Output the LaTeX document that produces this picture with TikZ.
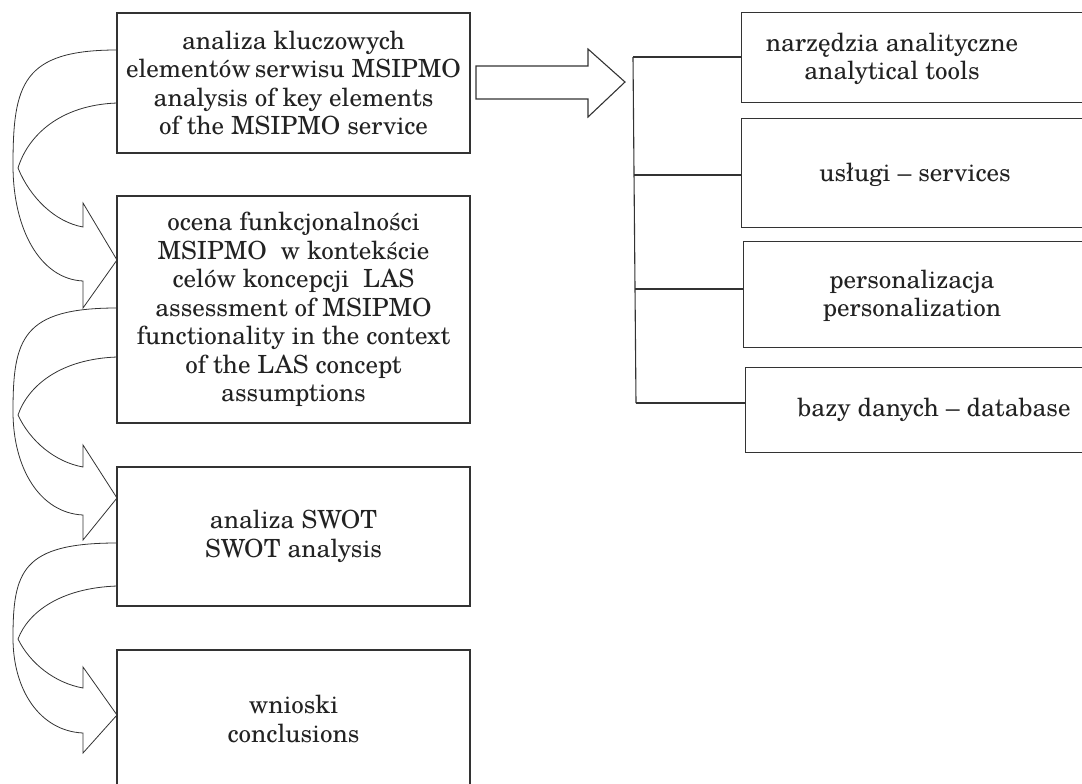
\documentclass[tikz,border=0pt]{standalone}
\usepackage{fontspec}
\setmainfont{TeX Gyre Schola}
\usetikzlibrary{calc}
\definecolor{ln}{HTML}{333333}
\definecolor{tx}{HTML}{222222}
\newcommand{\curvearr}[8]{%
 \draw[arr] (117,#1) .. controls (22,#1) and (13,{#1+0.3*((#1+#7)/2-#1)}) .. (13,{(#1+#7)/2})
   .. controls (13,{(#1+#7)/2+0.55*(#7-(#1+#7)/2)}) and (40,{#7-2}) .. (83,#7)
   -- (83,#8) -- (117,#6) -- (83,#4) -- (83,#5)
   .. controls (55,{#5-5}) and (30,{#3+0.5*(#5-#3)}) .. (18,#3)
   .. controls (28,{#2+0.5*(#3-#2)}) and (60,{#2+2}) .. (117,#2);}
\tikzset{
  lbox/.style={draw=ln, line width=1.1pt, minimum width=353, inner sep=0pt, align=center, text=tx, font=\fontsize{25}{28.5}\selectfont},
  rbox/.style={draw=ln, line width=1.1pt, minimum width=360, inner sep=0pt, anchor=north west},
  rtext/.style={align=center, text=tx, inner sep=0pt, font=\fontsize{25}{28.5}\selectfont},
  arr/.style={draw=ln, line width=0.8pt, line join=miter},
  tree/.style={draw=ln, line width=1.1pt},
}
\begin{document}
\begin{tikzpicture}[x=1pt,y=-1pt]
\useasboundingbox (0,0) rectangle (1082,784);
\clip (0,0) rectangle (1082,784);
% left column
\node[lbox, minimum height=140] (B1) at (293.5,83) {analiza kluczowych\\elementów\,serwisu MSIPMO\\analysis of key elements\\of the MSIPMO service};
\node[lbox, minimum height=227] (B2) at (293.5,309.5) {ocena funkcjonalności\\MSIPMO\ \ w kontekście\\celów koncepcji\ \ LAS\\assessment of MSIPMO\\functionality in the context\\of the LAS concept\\assumptions};
\node[lbox, minimum height=139] (B3) at (293.5,536.5) {analiza SWOT\\SWOT analysis};
\node[lbox, minimum height=138] (B4) at (293.5,719) {wnioski\\conclusions};
% curved arrows
\curvearr{50}{103}{168}{203}{227}{260}{281}{308}
\curvearr{308}{357}{415}{445}{467}{498}{515}{540}
\curvearr{543}{586}{639}{667}{688}{715}{733}{753}
% block arrow
\draw[arr, line width=1.1pt] (476,66) -- (588,66) -- (588,49) -- (625,82) -- (588,117) -- (588,99) -- (476,99) -- cycle;
% right column
\node[rbox, minimum height=90] (R1) at (741,12) {};
\node[rbox, minimum height=109] (R2) at (741,118) {};
\node[rbox, minimum height=106] (R3) at (743,241) {};
\node[rbox, minimum height=85] (R4) at (745,367) {};
\node[rtext] (T1) at (892,59) {narzędzia analityczne\\analytical tools};
\node[rtext] (T2) at (915,175) {usługi – services};
\node[rtext] (T3) at (912,296) {personalizacja\\personalization};
\node[rtext] (T4) at (934,410) {bazy danych – database};
% tree
\coordinate (b1) at (633,57);
\coordinate (b2) at (634,175);
\coordinate (b3) at (635,289);
\coordinate (b4) at (636,403);
\draw[tree] (b1) -- (b4);
\draw[tree] (b1) -- (b1 -| R1.west);
\draw[tree] (b2) -- (b2 -| R2.west);
\draw[tree] (b3) -- (b3 -| R3.west);
\draw[tree] (b4) -- (b4 -| R4.west);
\end{tikzpicture}
\end{document}
